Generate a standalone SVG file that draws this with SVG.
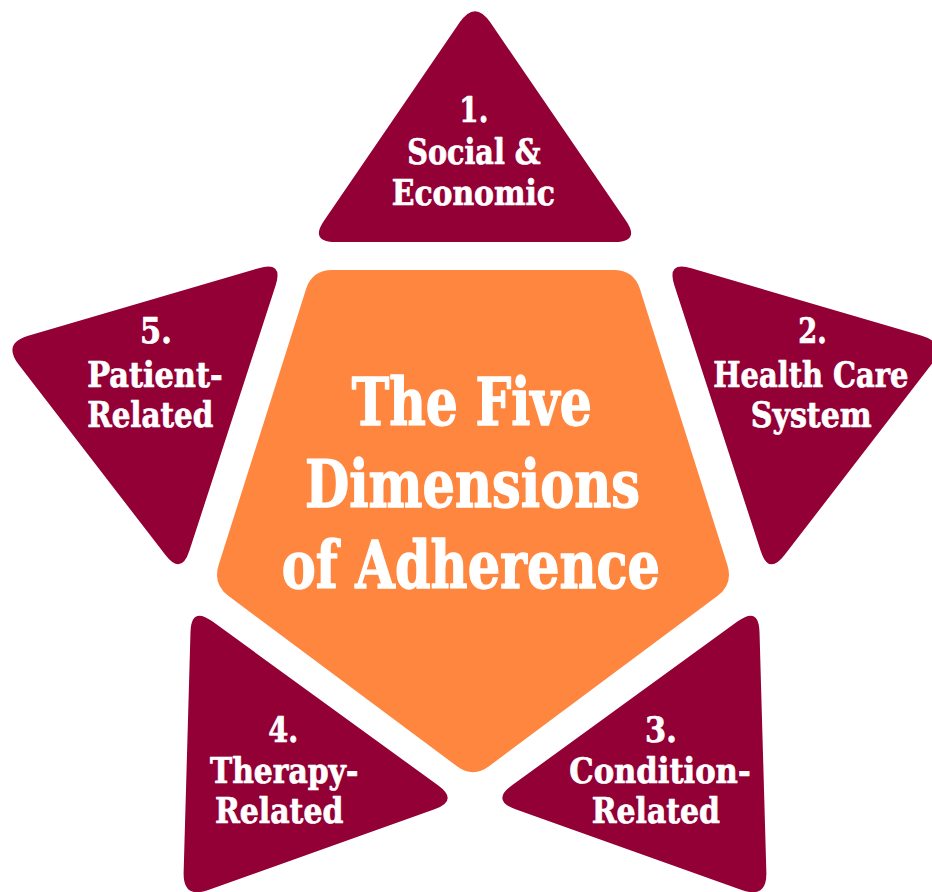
<svg xmlns="http://www.w3.org/2000/svg" xmlns:xlink="http://www.w3.org/1999/xlink" width="932" height="892" viewBox="0 0 932 892">
<style>
.tri{fill:#930036}
.pent{fill:#FF863F}
.t{font-family:"DejaVu Serif Condensed","DejaVu Serif",serif;font-weight:bold;fill:#ffffff;stroke:#ffffff;stroke-linejoin:round}
.s{font-size:36px;stroke-width:0.7px}
.c{font-size:65px;stroke-width:1.3px}
</style>
<defs>
<path id="triShape" d="M 490.24,22.29 L 625.82,220.54 Q 640.5,242 614.5,242 L 335.5,242 Q 309.5,242 324.18,220.54 L 459.76,22.29 Q 475,0 490.24,22.29 Z"/>
</defs>
<rect width="932" height="892" fill="#ffffff"/>
<g id="center">
<path class="pent" d="M 332.1,270 L 613.9,270 Q 633.9,270 639.94,289.07 L 727.36,565.03 Q 733.4,584.1 717.37,596.05 L 489.03,766.25 Q 473,778.2 456.97,766.25 L 228.63,596.05 Q 212.6,584.1 218.64,565.03 L 306.06,289.07 Q 312.1,270 332.1,270 Z"/>
<text class="t c" x="351.7" y="425" textLength="240" lengthAdjust="spacingAndGlyphs">The Five</text>
<text class="t c" x="305" y="506.7" textLength="335" lengthAdjust="spacingAndGlyphs">Dimensions</text>
<text class="t c" x="281.7" y="588.3" textLength="378.3" lengthAdjust="spacingAndGlyphs">of Adherence</text>
</g>
<g id="dim1">
<use class="tri" xlink:href="#triShape" href="#triShape"/>
<text class="t s" x="459.3" y="121.7" textLength="29" lengthAdjust="spacingAndGlyphs">1.</text>
<text class="t s" x="407.3" y="164" textLength="133.3" lengthAdjust="spacingAndGlyphs">Social &amp;</text>
<text class="t s" x="391.7" y="205" textLength="163.3" lengthAdjust="spacingAndGlyphs">Economic</text>
</g>
<g id="dim2">
<use class="tri" xlink:href="#triShape" href="#triShape" transform="rotate(72 475 497)"/>
<text class="t s" x="798.3" y="343.3" textLength="28.4" lengthAdjust="spacingAndGlyphs">2.</text>
<text class="t s" x="713.3" y="386.7" textLength="195" lengthAdjust="spacingAndGlyphs">Health Care</text>
<text class="t s" x="750.7" y="426.7" textLength="121" lengthAdjust="spacingAndGlyphs">System</text>
</g>
<g id="dim3">
<use class="tri" xlink:href="#triShape" href="#triShape" transform="rotate(144 475 497)"/>
<text class="t s" x="645" y="741.7" textLength="31.7" lengthAdjust="spacingAndGlyphs">3.</text>
<text class="t s" x="569.3" y="783.3" textLength="181.3" lengthAdjust="spacingAndGlyphs">Condition-</text>
<text class="t s" x="591.7" y="823.3" textLength="128.3" lengthAdjust="spacingAndGlyphs">Related</text>
</g>
<g id="dim4">
<use class="tri" xlink:href="#triShape" href="#triShape" transform="rotate(216 475 497)"/>
<text class="t s" x="268.3" y="741.7" textLength="30" lengthAdjust="spacingAndGlyphs">4.</text>
<text class="t s" x="210" y="783.3" textLength="148.3" lengthAdjust="spacingAndGlyphs">Therapy-</text>
<text class="t s" x="215" y="823.3" textLength="128.3" lengthAdjust="spacingAndGlyphs">Related</text>
</g>
<g id="dim5">
<use class="tri" xlink:href="#triShape" href="#triShape" transform="rotate(288 475 497)"/>
<text class="t s" x="140" y="343.3" textLength="31.7" lengthAdjust="spacingAndGlyphs">5.</text>
<text class="t s" x="87.3" y="386.7" textLength="135.3" lengthAdjust="spacingAndGlyphs">Patient-</text>
<text class="t s" x="87.3" y="426.7" textLength="126" lengthAdjust="spacingAndGlyphs">Related</text>
</g>
</svg>
